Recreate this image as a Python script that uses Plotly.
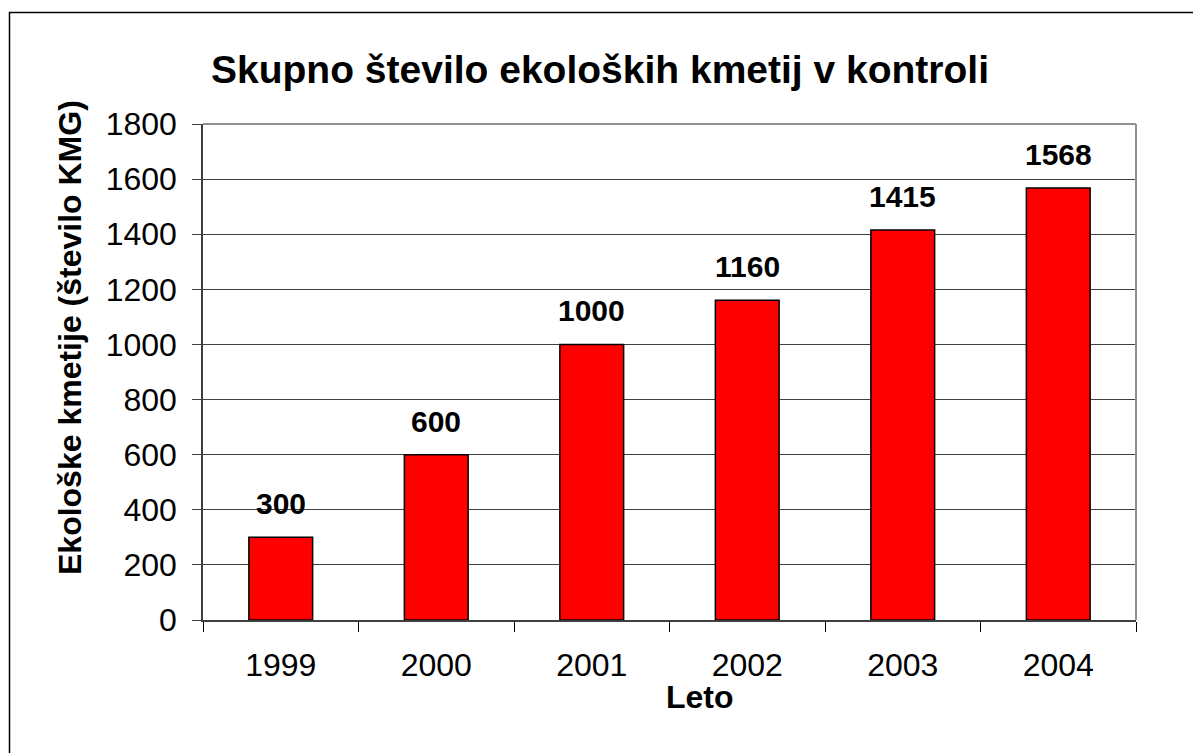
import plotly.graph_objects as go

years = ["1999", "2000", "2001", "2002", "2003", "2004"]
farms = [300, 600, 1000, 1160, 1415, 1568]
y_ticks = [0, 200, 400, 600, 800, 1000, 1200, 1400, 1600, 1800]

# page body has an 8px margin; figure coordinates = page - 8
W, H = 1193, 745
L, R, T, B = 195, 1128, 116, 612

def px(x):
    return (x - L) / (R - L)

def py(y):
    return (B - y) / (B - T)

FONT = "Liberation Sans, Arial"

fig = go.Figure(go.Bar(
    x=years, y=farms,
    marker=dict(color="#FF0000", line=dict(color="#000000", width=1.5)),
    width=0.41,
    cliponaxis=False,
))

# category index positions for value labels (numeric-looking strings would be read as indices)
annotations = [
    dict(x=i, y=v, xref="x", yref="y", text=f"<b>{v}</b>", showarrow=False,
         yanchor="bottom", yshift=15,
         font=dict(family=FONT, size=30, color="#000000"))
    for i, v in enumerate(farms)
]
annotations += [
    dict(x=px(692), y=py(689), xref="paper", yref="paper", text="<b>Leto</b>",
         showarrow=False, xanchor="center", yanchor="middle",
         font=dict(family=FONT, size=32, color="#000000")),
    dict(x=px(62), y=py(330), xref="paper", yref="paper",
         text="<b>Ekološke kmetije (število KMG)</b>", textangle=-90,
         showarrow=False, xanchor="center", yanchor="middle",
         font=dict(family=FONT, size=32, color="#000000")),
    dict(x=px(592), y=py(62), xref="paper", yref="paper",
         text="<b>Skupno število ekoloških kmetij v kontroli</b>",
         showarrow=False, xanchor="center", yanchor="middle",
         font=dict(family=FONT, size=39, color="#000000")),
]

fig.update_layout(
    width=W, height=H,
    margin=dict(l=L, r=W - R, t=T, b=H - B),
    paper_bgcolor="white", plot_bgcolor="white",
    font=dict(family=FONT, color="#000000"),
    showlegend=False,
    xaxis=dict(
        type="category",
        range=[-0.5, len(years) - 0.5],
        tickfont=dict(size=32), tickangle=0,
        ticks="outside", tickson="boundaries", ticklen=10, tickcolor="#000000",
        ticklabelstandoff=16,
        showline=True, linecolor="#404040", linewidth=1.5,
        showgrid=False,
    ),
    yaxis=dict(
        range=[0, 1800], tickvals=y_ticks,
        tickfont=dict(size=32),
        ticks="outside", ticklen=9, tickcolor="#404040",
        ticklabelstandoff=9,
        showline=True, linecolor="#404040", linewidth=1.5,
        showgrid=True, gridcolor="#404040", gridwidth=1,
        zeroline=False,
    ),
    annotations=annotations,
    shapes=[
        dict(type="line", xref="paper", yref="paper", x0=0, x1=1, y0=1, y1=1,
             line=dict(color="#909090", width=2)),
        dict(type="line", xref="paper", yref="paper", x0=1, x1=1, y0=0, y1=1,
             line=dict(color="#909090", width=2)),
        dict(type="rect", xref="paper", yref="paper",
             x0=px(1.5), x1=px(W + 5), y0=py(H + 5), y1=py(4.5),
             line=dict(color="#000000", width=1.5), fillcolor="rgba(0,0,0,0)", layer="below"),
    ],
)

fig.write_html("out.html")
